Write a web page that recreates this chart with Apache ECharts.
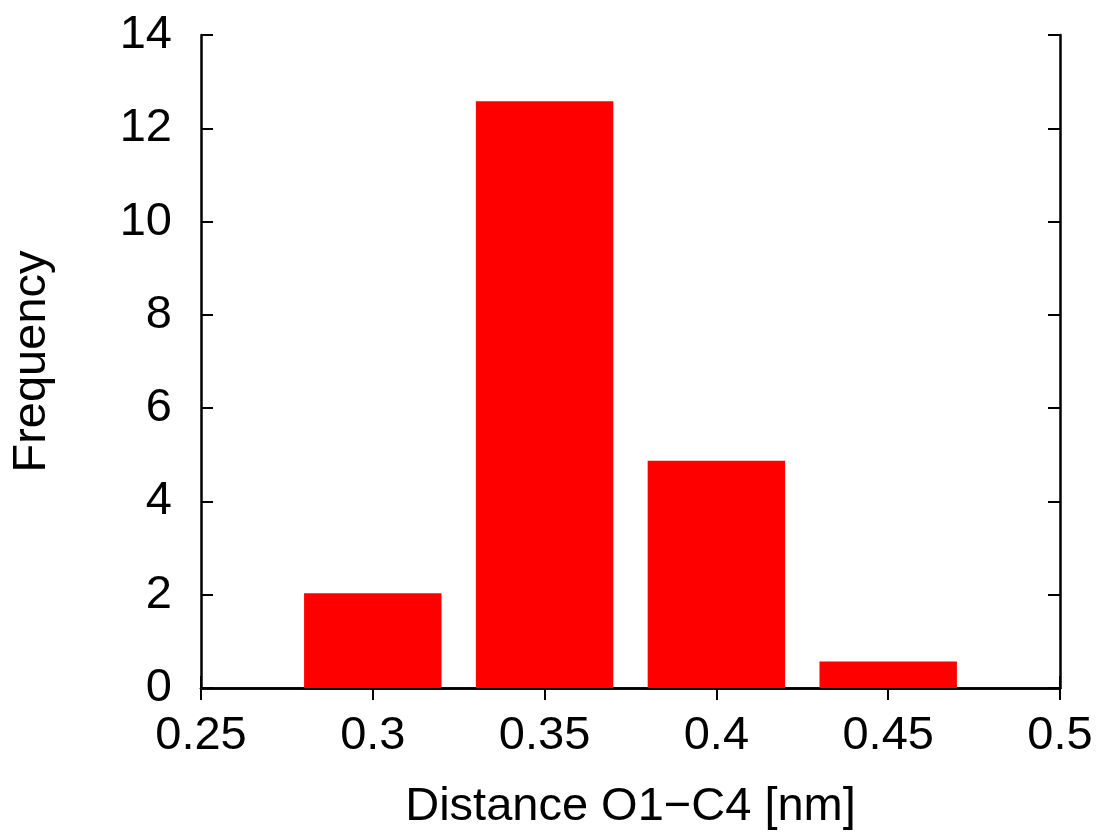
<!DOCTYPE html>
<html>
<head>
<meta charset="utf-8">
<script src="https://cdn.jsdelivr.net/npm/echarts@6/dist/echarts.min.js"></script>
<style>html,body{margin:0;padding:0;background:#fff}#c{width:1105px;height:838px}</style>
</head>
<body>
<div id="c"></div>
<script>
const binCenters = [0.3, 0.35, 0.4, 0.45];
const frequencies = [2.03, 12.58, 4.87, 0.57];
const binWidth = 0.04;
const xTicks = [0.25, 0.3, 0.35, 0.4, 0.45, 0.5];
const yTicks = [0, 2, 4, 6, 8, 10, 12, 14];

const FONT = '"Liberation Sans", Arial, sans-serif';
const chart = echarts.init(document.getElementById('c'), null, {renderer: 'canvas'});
const data = binCenters.map((c, i) => [c, frequencies[i]]);
const axisLine = {show: true, lineStyle: {color: '#000', width: 2.5}};
const tick = {show: true, inside: true, length: 12, lineStyle: {color: '#000', width: 2}};
chart.setOption({
  animation: false,
  backgroundColor: '#fff',
  grid: {left: 201, right: 45, top: 35, bottom: 150, show: false},
  xAxis: [{
    type: 'value', min: 0.25, max: 0.5, interval: 0.05, position: 'bottom',
    name: 'Distance O1\u2212C4 [nm]', nameLocation: 'middle', nameGap: 96,
    nameTextStyle: {fontFamily: FONT, fontSize: 47, color: '#000'},
    axisLine: axisLine, axisTick: tick, splitLine: {show: false},
    axisLabel: {fontFamily: FONT, fontSize: 47, color: '#000', margin: 25,
      formatter: v => String(+v.toFixed(2))}
  }, {
    type: 'value', min: 0.25, max: 0.5, interval: 0.05, position: 'top',
    axisLine: axisLine, axisTick: tick, splitLine: {show: false}, axisLabel: {show: false}
  }],
  yAxis: [{
    type: 'value', min: 0, max: 14, interval: 2, position: 'left',
    name: 'Frequency', nameLocation: 'middle', nameGap: 145,
    nameTextStyle: {fontFamily: FONT, fontSize: 47, color: '#000'},
    axisLine: axisLine, axisTick: tick, splitLine: {show: false},
    axisLabel: {fontFamily: FONT, fontSize: 47, color: '#000', margin: 29}
  }, {
    type: 'value', min: 0, max: 14, interval: 2, position: 'right',
    axisLine: axisLine, axisTick: tick, splitLine: {show: false}, axisLabel: {show: false}
  }],
  series: [{
    type: 'custom',
    data: data,
    encode: {x: 0, y: 1},
    renderItem: function (params, api) {
      const c = api.value(0), v = api.value(1);
      const p0 = api.coord([c - binWidth / 2, v]);
      const p1 = api.coord([c + binWidth / 2, 0]);
      return {
        type: 'rect',
        shape: {x: p0[0], y: p0[1], width: p1[0] - p0[0], height: p1[1] - p0[1]},
        style: {fill: '#ff0000'}
      };
    },
    z: 1
  }]
});
</script>
</body>
</html>
